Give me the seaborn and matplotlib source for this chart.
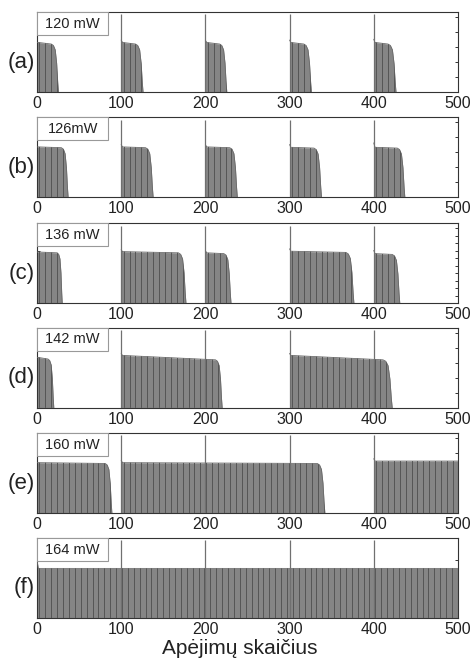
import numpy as np
import matplotlib
matplotlib.use("Agg")
import matplotlib.pyplot as plt
import seaborn as sns

# ---------------- data ----------------
PANEL_LETTERS = ["(a)", "(b)", "(c)", "(d)", "(e)", "(f)"]
POWER_LABELS = ["120 mW", "126mW", "136 mW", "142 mW", "160 mW", "164 mW"]
X_TICKS = [0, 100, 200, 300, 400, 500]
X_LABEL = "Apėjimų skaičius"

# pulse = (start, shoulder, end, peak_at_start, level_start, level_at_shoulder); end None -> runs to 500
PULSES_A = [(0, 17, 25.5, 0.62, 0.62, 0.60), (100, 117, 126, 0.65, 0.62, 0.60),
            (200, 217, 225.5, 0.65, 0.62, 0.60), (300, 317, 326, 0.65, 0.62, 0.60),
            (400, 417, 426.5, 0.66, 0.62, 0.60)]
PULSES_B = [(0, 29, 37, 0.63, 0.63, 0.62), (100, 129, 138, 0.66, 0.63, 0.62),
            (200, 229, 238, 0.66, 0.63, 0.62), (300, 329, 338, 0.66, 0.625, 0.615),
            (400, 428, 437, 0.68, 0.625, 0.615)]
PULSES_C = [(0, 24, 30, 0.64, 0.64, 0.63), (100, 168, 177, 0.67, 0.645, 0.63),
            (200, 222, 230.5, 0.66, 0.63, 0.62), (300, 367, 376.5, 0.68, 0.65, 0.635),
            (400, 422, 431, 0.66, 0.62, 0.61)]
PULSES_D = [(0, 13, 20, 0.63, 0.63, 0.61), (100, 212, 220, 0.68, 0.655, 0.60),
            (300, 411, 422, 0.68, 0.655, 0.60)]
PULSES_E = [(0, 81, 89, 0.63, 0.63, 0.62), (100, 333, 342, 0.66, 0.63, 0.62),
            (400, 500, None, 0.68, 0.65, 0.65)]
PULSES_F = [(0, 500, None, 0.73, 0.62, 0.62)]
ALL_PULSES = [PULSES_A, PULSES_B, PULSES_C, PULSES_D, PULSES_E, PULSES_F]

SPIKE_X = [100, 200, 300, 400]
SPIKE_H = [0.97, 0.97, 0.97, 0.97, 0.97, 0.97]

# shape of the trailing edge (fraction of fall duration, fraction of level)
FALL_T = [0.0, 0.3, 0.55, 0.75, 0.9, 1.0]
FALL_Y = [1.0, 0.97, 0.88, 0.6, 0.2, 0.0]

# ---------------- style ----------------
sns.set_theme(style="white")
plt.rcParams["font.family"] = ["Liberation Sans", "DejaVu Sans"]

FILL = "#858585"
STRIPE = "#555555"
SPINE = "#333333"

fig = plt.figure(figsize=(4.74, 6.62), dpi=100)
bottoms = [0.861, 0.702, 0.542, 0.384, 0.225, 0.0665]
ytick_steps = [0.1875, 0.1875, 0.094, 0.1875, 0.1875, 0.365]

for i, pulses in enumerate(ALL_PULSES):
    ax = fig.add_axes([0.078, bottoms[i], 0.888, 0.1208])
    ax.set_xlim(0, 500)
    ax.set_ylim(0, 1)
    for (s, sh, e, pk, l0, l1) in pulses:
        xs = [s, s + 1.5, sh]
        ys = [pk, l0, l1]
        if e is not None:
            xs += [sh + t * (e - sh) for t in FALL_T[1:]]
            ys += [l1 * f for f in FALL_Y[1:]]
        poly = ax.fill_between(xs, 0, ys, color=FILL, lw=0, zorder=2)
        ax.plot(xs, ys, color="#6a6a6a", lw=0.6, zorder=3)
        stripes = ax.vlines(np.arange(s + 3, (e if e is not None else 500), 7), 0, 1,
                            color=STRIPE, lw=0.7, zorder=3)
        stripes.set_clip_path(poly.get_paths()[0], ax.transData)
    ax.vlines(SPIKE_X, 0, SPIKE_H[i], color="#707070", lw=0.9, zorder=4)

    # power label box
    ax.add_patch(plt.Rectangle((0, 0.71), 0.169, 0.29, transform=ax.transAxes,
                               facecolor="white", edgecolor="#999999", lw=0.8, zorder=5))
    ax.text(0.085, 0.855, POWER_LABELS[i], transform=ax.transAxes, ha="center",
            va="center", fontsize=10.5, color="#222222", zorder=6)
    # panel letter
    ax.text(-0.005, 0.375, PANEL_LETTERS[i], transform=ax.transAxes, ha="right",
            va="center", fontsize=16, color="#222222")

    ax.set_xticks(X_TICKS)
    ax.set_xticklabels([str(v) for v in X_TICKS], fontsize=11.5, color="#222222")
    ax.set_yticks(np.arange(ytick_steps[i], 0.999, ytick_steps[i]))
    ax.set_yticklabels([])
    ax.tick_params(axis="both", direction="in", length=2.5, width=0.7, color="#333333",
                   left=True, right=True, bottom=True, top=False, pad=3)
    for sp in ax.spines.values():
        sp.set_color(SPINE)
        sp.set_linewidth(0.8)
    ax.grid(False)

fig.text(0.506, 0.021, X_LABEL, ha="center", va="center", fontsize=15, color="#222222")

fig.savefig("out.png", dpi=100, facecolor="white")
